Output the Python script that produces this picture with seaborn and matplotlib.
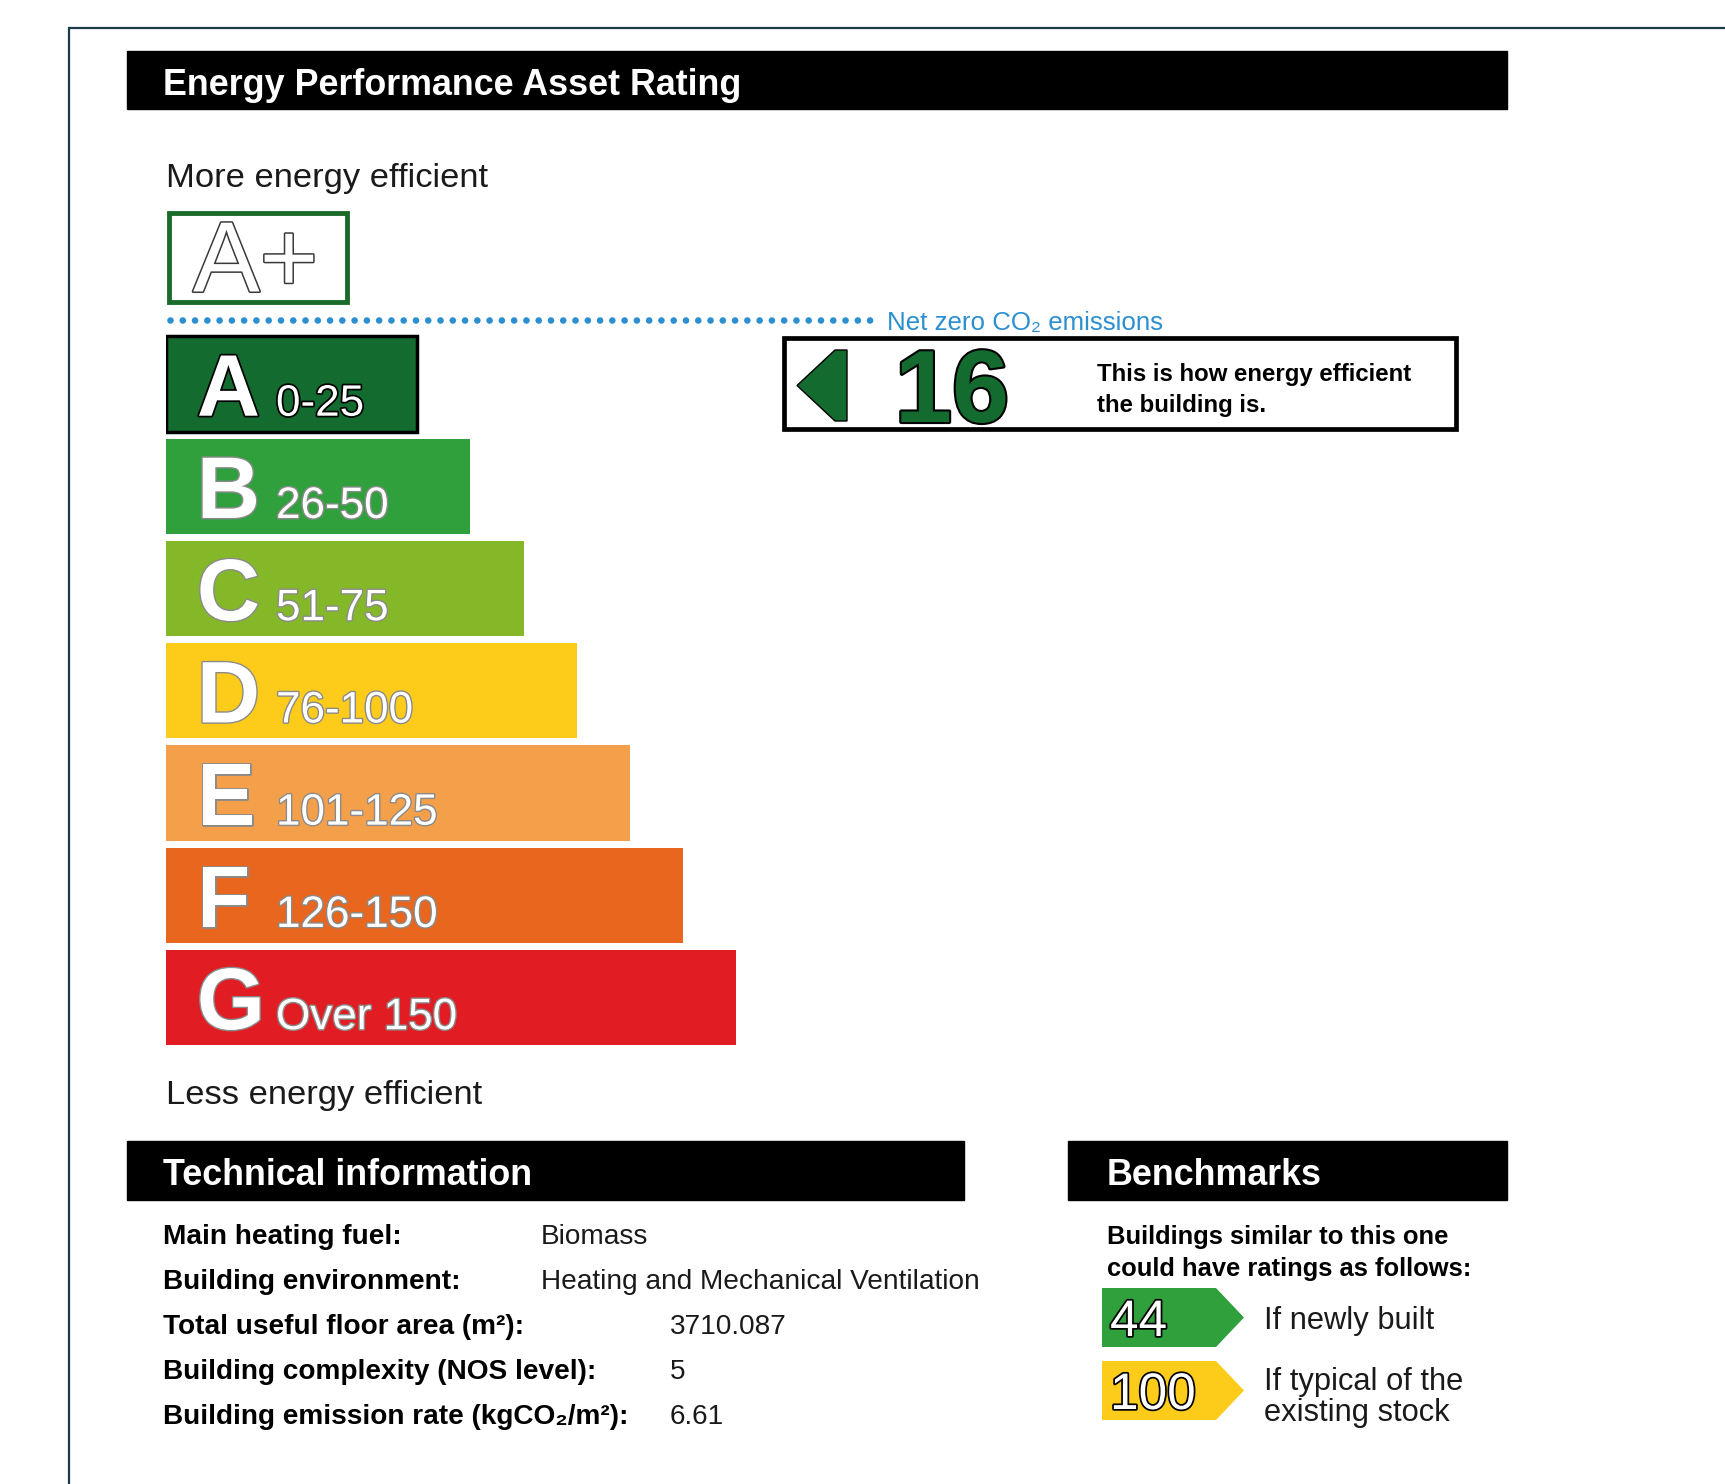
import numpy as np
import matplotlib
matplotlib.use("Agg")
import matplotlib.pyplot as plt
import matplotlib.patheffects as pe
from matplotlib.patches import Rectangle, Polygon
import seaborn as sns

# rating bands
band_letter = ["A", "B", "C", "D", "E", "F", "G"]
band_range = ["0-25", "26-50", "51-75", "76-100", "101-125", "126-150", "Over 150"]
band_upper = [25, 50, 75, 100, 125, 150, 175]
band_color = ["#136b2f", "#2fa03c", "#85b828", "#fdcc1a", "#f4a04b", "#e8661e", "#e21c23"]

# this building
rating = 16

# benchmarks
bench_value = [44, 100]
bench_text = [["If newly built"], ["If typical of the", "existing stock"]]

# technical information
tech_label = ["Main heating fuel:", "Building environment:",
              "Total useful floor area (m²):", "Building complexity (NOS level):",
              "Building emission rate (kgCO₂/m²):"]
tech_value = ["Biomass", "Heating and Mechanical Ventilation", "3710.087", "5", "6.61"]


def band_of(v):
    return int(np.searchsorted(band_upper[:-1], v))


sns.set_style("white")
plt.rcParams["font.family"] = ["Liberation Sans", "DejaVu Sans"]

W, H = 1725, 1484
fig = plt.figure(figsize=(W / 100, H / 100), dpi=100)
ax = fig.add_axes([0, 0, 1, 1])
ax.set_xlim(0, W)
ax.set_ylim(H, 0)
ax.axis("off")

txt = "#1a1a1a"
white_edge = [pe.Stroke(linewidth=2, foreground="#8a8a8a"), pe.Normal()]
black_edge = [pe.Stroke(linewidth=2.5, foreground="black"), pe.Normal()]

# page frame
ax.plot([69, 69, W], [H, 27.5, 27.5], color="#1c3b49", lw=1.6, solid_joinstyle="miter")

# header bars
for x0, x1, label in [(126.5, 1507, "Energy Performance Asset Rating"),
                      (126.5, 964, "Technical information"),
                      (1068, 1507, "Benchmarks")]:
    y0 = 50.6 if label.startswith("Energy") else 1141
    ax.add_patch(Rectangle((x0, y0), x1 - x0, 58.5, color="black"))
    ax.text(x0 + 36.5 if x0 < 200 else x0 + 39, y0 + 44, label, color="white",
            fontsize=25.8, fontweight="bold", va="baseline")

ax.text(166, 187, "More energy efficient", fontsize=24.8, color=txt, va="baseline")
ax.text(166, 1104, "Less energy efficient", fontsize=24.8, color=txt, va="baseline")

# A+ box
ax.add_patch(Rectangle((168.5, 212.5), 178, 89, facecolor="white",
                       edgecolor="#1a6b2a", lw=3.5))
ax.text(193, 291.5, "A+", fontsize=72, color="white", va="baseline",
        path_effects=[pe.Stroke(linewidth=2.2, foreground="#3a3a3a"), pe.Normal()])

# net zero line
ax.plot([170, 878], [320, 320], color="#2b8fd0", lw=4.8,
        linestyle=(0, (0.001, 1.84)), dash_capstyle="round")
ax.text(887, 330, "Net zero CO₂ emissions", fontsize=18.6, color="#2b8fd0", va="baseline")

# rating bands
bar_len = np.array(band_upper) + 93
axb = fig.add_axes([166 / W, 1 - 1048.6 / H, 638.4 / W, 715.7 / H])
sns.barplot(x=bar_len, y=band_letter, hue=band_letter, palette=band_color,
            saturation=1, orient="h", width=0.93, legend=False, linewidth=0, ax=axb)
axb.set_xlim(0, 300)
axb.set_ylim(6.5, -0.5)
axb.axis("off")
axb.patches[0].set_edgecolor("black")
axb.patches[0].set_linewidth(2.5)

for i, (letter, rng) in enumerate(zip(band_letter, band_range)):
    eff = black_edge if i == 0 else white_edge
    axb.text(14.5, i + 0.31, letter, fontsize=63, fontweight="bold", color="white",
             va="baseline", path_effects=eff)
    axb.text(51.7, i + 0.31, rng, fontsize=31.7, color="white",
             va="baseline", path_effects=eff)

# current rating
rc = band_color[band_of(rating)]
ax.add_patch(Rectangle((784, 338), 672, 91, facecolor="white", edgecolor="black", lw=3.4))
ax.add_patch(Polygon([(847, 350), (847, 421), (835, 421), (797, 385.5), (835, 350)],
                     facecolor=rc, edgecolor="black", lw=1))
ax.text(952, 422, str(rating), fontsize=74, fontweight="bold", color=rc, ha="center",
        va="baseline", path_effects=[pe.Stroke(linewidth=3, foreground="black"), pe.Normal()])
ax.text(1097, 381, "This is how energy efficient", fontsize=17.3, fontweight="bold",
        color="black", va="baseline")
ax.text(1097, 412, "the building is.", fontsize=17.3, fontweight="bold",
        color="black", va="baseline")

# technical information rows
value_x = [541, 541, 670, 670, 670]
for j, (lab, val) in enumerate(zip(tech_label, tech_value)):
    yb = 1244 + 45.1 * j
    ax.text(163, yb, lab, fontsize=20.2, fontweight="bold", color="black", va="baseline")
    ax.text(value_x[j], yb, val, fontsize=20.2, color=txt, va="baseline")

# benchmarks
ax.text(1107, 1244, "Buildings similar to this one", fontsize=18.4, fontweight="bold",
        color="black", va="baseline")
ax.text(1107, 1276, "could have ratings as follows:", fontsize=18.4, fontweight="bold",
        color="black", va="baseline")
for k, (v, lines) in enumerate(zip(bench_value, bench_text)):
    top = 1288 + 73 * k
    h = 59
    ax.add_patch(Polygon([(1102, top), (1216, top), (1244, top + h / 2),
                          (1216, top + h), (1102, top + h)],
                         facecolor=band_color[band_of(v)], edgecolor="none"))
    ax.text(1110, top + 48, str(v), fontsize=37, color="white", va="baseline",
            path_effects=black_edge)
    yc = top + h / 2 + 12 - (len(lines) - 1) * 31 / 2 + (len(lines) - 1) * 3
    for n, line in enumerate(lines):
        ax.text(1264, yc + 31 * n, line, fontsize=22.2, color=txt, va="baseline")

fig.savefig("out.png", dpi=100, facecolor="white")
